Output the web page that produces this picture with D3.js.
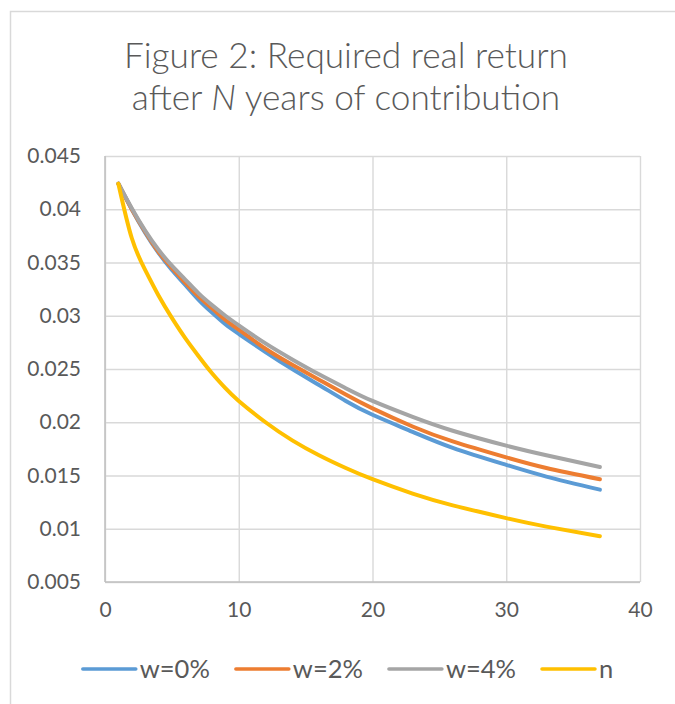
<!DOCTYPE html>
<html>
<head>
<meta charset="utf-8">
<script src="https://cdn.jsdelivr.net/npm/d3@7/dist/d3.min.js"></script>
<style>
  html, body { margin: 0; padding: 0; background: #fff; }
  svg { display: block; }
  text { font-family: Lato, "Open Sans", sans-serif; fill: #595959; }
</style>
</head>
<body>
<svg id="chart" width="675" height="704"></svg>
<script>
// ---- data ----
const years   = [1, 2, 3, 4, 5, 6, 7, 8, 9, 10, 12, 14, 16, 18, 20, 23, 26, 30, 33, 37];
const w0      = [0.0424, 0.0400, 0.0378, 0.0359, 0.0343, 0.0329, 0.0315, 0.0303, 0.0292, 0.0283, 0.0266, 0.0250, 0.0235, 0.0220, 0.0207, 0.0191, 0.0176, 0.0160, 0.0149, 0.01367];
const w2      = [0.0424, 0.0400, 0.0379, 0.0360, 0.0345, 0.0331, 0.0318, 0.0307, 0.0296, 0.0287, 0.0269, 0.0254, 0.0240, 0.0226, 0.0213, 0.0196, 0.0182, 0.0167, 0.0157, 0.01464];
const w4      = [0.0424, 0.0401, 0.0380, 0.0362, 0.0347, 0.0334, 0.0321, 0.0310, 0.0300, 0.0291, 0.0274, 0.0259, 0.0245, 0.0232, 0.0220, 0.0205, 0.0192, 0.0178, 0.0169, 0.0158];
const nSeries = [0.0424, 0.0373, 0.0343, 0.0319, 0.0298, 0.0279, 0.0262, 0.0246, 0.0232, 0.0220, 0.0200, 0.0183, 0.0169, 0.0157, 0.01465, 0.0133, 0.0122, 0.0110, 0.0102, 0.0093];
const seriesNames  = ["w=0%", "w=2%", "w=4%", "n"];
const seriesColors = ["#5B9BD5", "#ED7D31", "#A5A5A5", "#FFC000"];
const xTicks = [0, 10, 20, 30, 40];
const yTicks = [0.005, 0.01, 0.015, 0.02, 0.025, 0.03, 0.035, 0.04, 0.045];

const seriesValues = [w0, w2, w4, nSeries];

// ---- layout ----
const svg = d3.select("#chart");
const plot = { left: 105, right: 640, top: 156, bottom: 582 };

// chart outer border
svg.append("path")
  .attr("d", "M10.5,704 V11.5 H675")
  .attr("fill", "none").attr("stroke", "#d9d9d9").attr("stroke-width", 1.5);

// title
const title = svg.append("text")
  .attr("text-anchor", "middle")
  .attr("font-weight", 300)
  .style("font-size", "32px");
const t1 = title.append("tspan").attr("x", 346).attr("y", 68).text("Figure 2: Required real return");
const t2 = title.append("tspan").attr("x", 346).attr("y", 110);
t2.append("tspan").text("after ");
t2.append("tspan").attr("font-style", "italic").text("N");
t2.append("tspan").text(" years of contribution");
// fit title width to the reference (~444px for first line)
const w1 = t1.node().getComputedTextLength();
title.style("font-size", (32 * 444 / w1).toFixed(2) + "px");

const x = d3.scaleLinear().domain([0, 40]).range([plot.left, plot.right]);
const y = d3.scaleLinear().domain([0.005, 0.045]).range([plot.bottom, plot.top]);

// gridlines
const gx = svg.append("g").attr("transform", `translate(0,${plot.bottom})`)
  .call(d3.axisBottom(x).tickValues(xTicks).tickSize(-(plot.bottom - plot.top)).tickFormat(""));
gx.select(".domain").remove();
gx.selectAll("line").attr("stroke", "#d9d9d9").attr("stroke-width", 1.4);

const gy = svg.append("g").attr("transform", `translate(${plot.left},0)`)
  .call(d3.axisLeft(y).tickValues(yTicks).tickSize(-(plot.right - plot.left)).tickFormat(""));
gy.select(".domain").remove();
gy.selectAll("line").attr("stroke", "#d9d9d9").attr("stroke-width", 1.4);

// axis lines
svg.append("line").attr("x1", plot.left).attr("x2", plot.left)
  .attr("y1", plot.top).attr("y2", plot.bottom)
  .attr("stroke", "#bfbfbf").attr("stroke-width", 1.5);
svg.append("line").attr("x1", plot.left).attr("x2", plot.right)
  .attr("y1", plot.bottom).attr("y2", plot.bottom)
  .attr("stroke", "#bfbfbf").attr("stroke-width", 1.5);

// y labels
const yl = svg.append("g").attr("transform", `translate(${plot.left},0)`)
  .call(d3.axisLeft(y).tickValues(yTicks).tickSize(0).tickPadding(24)
    .tickFormat(d => String(+d.toFixed(3))));
yl.select(".domain").remove();
yl.selectAll("text").attr("fill", "#595959").style("font-size", "21px")
  .style("font-family", "Lato, sans-serif");

// x labels
const xl = svg.append("g").attr("transform", `translate(0,${plot.bottom})`)
  .call(d3.axisBottom(x).tickValues(xTicks).tickSize(0).tickPadding(20));
xl.select(".domain").remove();
xl.selectAll("text").attr("fill", "#595959").style("font-size", "21px")
  .style("font-family", "Lato, sans-serif");

// lines
const line = d3.line()
  .x((d, i) => x(years[i]))
  .y(d => y(d))
  .curve(d3.curveNatural);

seriesValues.forEach((vals, k) => {
  svg.append("path")
    .datum(vals)
    .attr("d", line)
    .attr("fill", "none")
    .attr("stroke", seriesColors[k])
    .attr("stroke-width", 4)
    .attr("stroke-linecap", "round")
    .attr("stroke-linejoin", "round");
});

// legend
const legend = svg.append("g");
const lineLen = 53, gapLT = 4, gapItems = 26, legY = 669;
let cx = 0;
seriesNames.forEach((name, k) => {
  const g = legend.append("g");
  g.append("line").attr("x1", cx).attr("x2", cx + lineLen)
    .attr("y1", legY).attr("y2", legY)
    .attr("stroke", seriesColors[k]).attr("stroke-width", 3.5)
    .attr("stroke-linecap", "round");
  const t = g.append("text").attr("x", cx + lineLen + gapLT).attr("y", legY + 9)
    .style("font-size", "25.5px").text(name);
  const w = t.node().getComputedTextLength();
  cx += lineLen + gapLT + w + gapItems;
});
const totalW = cx - gapItems;
legend.attr("transform", `translate(${348 - totalW / 2},0)`);
</script>
</body>
</html>
